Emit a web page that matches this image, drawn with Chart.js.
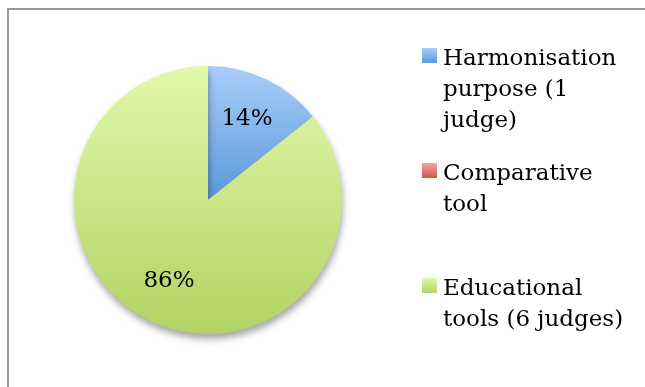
<!DOCTYPE html>
<html>
<head>
<meta charset="utf-8">
<script src="https://cdn.jsdelivr.net/npm/chart.js@4/dist/chart.umd.min.js"></script>
<style>
  html, body { margin: 0; padding: 0; background: #fff; }
  #wrap { position: relative; width: 645px; height: 387px; }
  #frame { position: absolute; left: 7px; top: 8px; right: -4px; bottom: -4px; border-left: 2px solid #9a9a9a; border-top: 2px solid #9a9a9a; }
  canvas { position: absolute; left: 0; top: 0; }
</style>
</head>
<body>
<div id="wrap">
  <div id="frame"></div>
  <canvas id="pastaChart" width="645" height="387"></canvas>
</div>
<script>
// Kategoriler ve hakim sayilari
var kategoriler = ["Harmonisation purpose (1 judge)", "Comparative tool", "Educational tools (6 judges)"];
var hakimSayilari = [1, 0, 6];

// dilim renkleri: [ust, alt]
var renkUst = ["#aacefa", "#f4a6a3", "#e2f8aa"];
var renkAlt = ["#5a99da", "#d6544c", "#b2d364"];

var yaziFontu = "23px 'DejaVu Serif', 'Liberation Serif', serif";

function dilimRengi(context) {
  var chart = context.chart;
  var alan = chart.chartArea;
  if (!alan) return renkAlt[context.dataIndex];
  var ctx = chart.ctx;
  var i = context.dataIndex;
  var ortaY = (alan.top + alan.bottom) / 2;
  // mavi dilim sadece ust yarida, degrade merkeze kadar
  var altY = i == 0 ? ortaY : alan.bottom;
  var g = ctx.createLinearGradient(0, alan.top, 0, altY);
  g.addColorStop(0, renkUst[i]);
  g.addColorStop(1, renkAlt[i]);
  return g;
}

function satirlaraBol(ctx, metin, genislik) {
  var kelimeler = metin.split(" ");
  var satirlar = [];
  var satir = "";
  for (var i = 0; i < kelimeler.length; i++) {
    var deneme = satir ? satir + " " + kelimeler[i] : kelimeler[i];
    if (satir && ctx.measureText(deneme).width > genislik) {
      satirlar.push(satir);
      satir = kelimeler[i];
    } else {
      satir = deneme;
    }
  }
  if (satir) satirlar.push(satir);
  return satirlar;
}

// golge, yuzde etiketleri ve sag taraftaki aciklama
var pastaEklentisi = {
  id: "pastaEklentisi",
  beforeDatasetsDraw: function (chart) {
    var ctx = chart.ctx;
    ctx.save();
    ctx.shadowColor = "rgba(0,0,0,0.35)";
    ctx.shadowBlur = 7;
    ctx.shadowOffsetX = 1;
    ctx.shadowOffsetY = 5;
  },
  afterDatasetsDraw: function (chart) {
    var ctx = chart.ctx;
    ctx.restore();

    var veri = chart.data.datasets[0].data;
    var toplam = veri.reduce(function (a, b) { return a + b; }, 0);
    var meta = chart.getDatasetMeta(0);

    ctx.save();
    ctx.font = yaziFontu;
    ctx.fillStyle = "#000";
    ctx.textAlign = "center";
    ctx.textBaseline = "middle";
    meta.data.forEach(function (dilim, i) {
      if (!veri[i]) return;
      var p = dilim.getProps(["x", "y", "startAngle", "endAngle", "outerRadius"], true);
      var aci = (p.startAngle + p.endAngle) / 2;
      var r = p.outerRadius * 0.67;
      var yuzde = Math.round(veri[i] / toplam * 100) + "%";
      ctx.fillText(yuzde, p.x + Math.cos(aci) * r, p.y + Math.sin(aci) * r);
    });

    // aciklama kutusu
    var solX = 422, ustY = 48, aralik = 115, satirAraligi = 31;
    ctx.textAlign = "left";
    ctx.textBaseline = "alphabetic";
    chart.data.labels.forEach(function (etiket, i) {
      var y = ustY + i * aralik;
      var g = ctx.createLinearGradient(0, y, 0, y + 15);
      g.addColorStop(0, renkUst[i]);
      g.addColorStop(1, renkAlt[i]);
      ctx.fillStyle = g;
      ctx.fillRect(solX, y, 15, 15);
      ctx.fillStyle = "#000";
      var satirlar = satirlaraBol(ctx, etiket, 190);
      for (var s = 0; s < satirlar.length; s++) {
        ctx.fillText(satirlar[s], solX + 21, y + 17 + s * satirAraligi);
      }
    });
    ctx.restore();
  }
};

var ctx = document.getElementById("pastaChart");
var pastaGrafik = new Chart(ctx, {
  type: "pie",
  data: {
    labels: kategoriler,
    datasets: [{
      data: hakimSayilari,
      backgroundColor: dilimRengi,
      borderWidth: 0
    }]
  },
  options: {
    responsive: false,
    animation: false,
    layout: { padding: { left: 74, right: 303, top: 66, bottom: 53 } },
    plugins: {
      legend: { display: false },
      tooltip: { enabled: false }
    }
  },
  plugins: [pastaEklentisi]
});
</script>
</body>
</html>
